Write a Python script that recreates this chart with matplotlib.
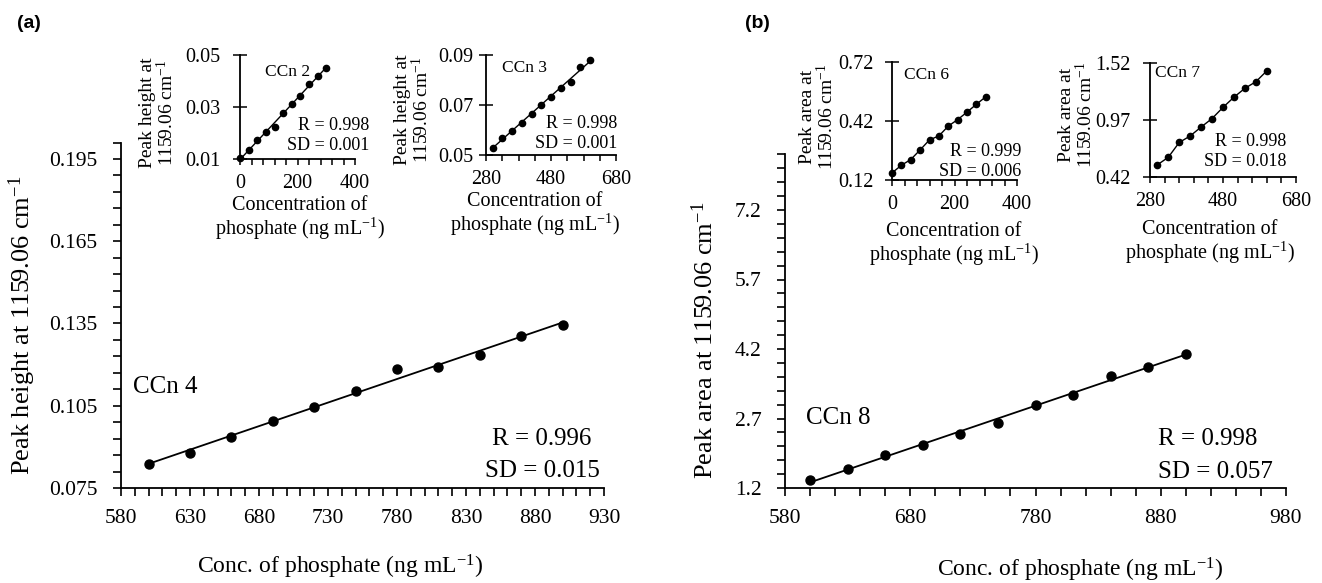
import numpy as np
import matplotlib
matplotlib.use("Agg")
import matplotlib.pyplot as plt
from matplotlib.ticker import FixedLocator, FixedFormatter

# ---------------- data ----------------
ccn2_x = [0, 30, 60, 90, 120, 150, 180, 210, 240, 270, 300]
ccn2_y = [0.0104, 0.0133, 0.0174, 0.0202, 0.0222, 0.0278, 0.0311, 0.0341, 0.0390, 0.0421, 0.0450]
ccn3_x = [300, 330, 360, 390, 420, 450, 480, 510, 540, 570, 600]
ccn3_y = [0.0530, 0.0567, 0.0596, 0.0629, 0.0666, 0.0699, 0.0732, 0.0769, 0.0792, 0.0851, 0.0880]
ccn4_x = [600, 630, 660, 690, 720, 750, 780, 810, 840, 870, 900]
ccn4_y = [0.0838, 0.0877, 0.0935, 0.0996, 0.1046, 0.1104, 0.1183, 0.1193, 0.1235, 0.1304, 0.1344]
ccn6_x = [0, 30, 60, 90, 120, 150, 180, 210, 240, 270, 300]
ccn6_y = [0.156, 0.195, 0.224, 0.273, 0.324, 0.344, 0.394, 0.427, 0.465, 0.505, 0.543]
ccn7_x = [300, 330, 360, 390, 420, 450, 480, 510, 540, 570, 600]
ccn7_y = [0.537, 0.610, 0.753, 0.816, 0.902, 0.984, 1.092, 1.190, 1.276, 1.339, 1.444]
ccn8_x = [600, 630, 660, 690, 720, 750, 780, 810, 840, 870, 900]
ccn8_y = [1.38, 1.60, 1.92, 2.12, 2.36, 2.61, 2.99, 3.20, 3.61, 3.82, 4.10]

# tick labels
a_xticks = ["580", "630", "680", "730", "780", "830", "880", "930"]
a_yticks = ["0.075", "0.105", "0.135", "0.165", "0.195"]
b_xticks = ["580", "680", "780", "880", "980"]
b_yticks = ["1.2", "2.7", "4.2", "5.7", "7.2"]
i2_x = ["0", "200", "400"];   i2_y = ["0.01", "0.03", "0.05"]
i3_x = ["280", "480", "680"]; i3_y = ["0.05", "0.07", "0.09"]
i6_x = ["0", "200", "400"];   i6_y = ["0.12", "0.42", "0.72"]
i7_x = ["280", "480", "680"]; i7_y = ["0.42", "0.97", "1.52"]

# stats text
stats = {"CCn 2": ("R = 0.998", "SD = 0.001"), "CCn 3": ("R = 0.998", "SD = 0.001"),
         "CCn 4": ("R = 0.996", "SD = 0.015"), "CCn 6": ("R = 0.999", "SD = 0.006"),
         "CCn 7": ("R = 0.998", "SD = 0.018"), "CCn 8": ("R = 0.998", "SD = 0.057")}

# ---------------- style ----------------
plt.rcParams['font.family'] = ['Liberation Serif', 'DejaVu Serif']
plt.rcParams['mathtext.fontset'] = 'custom'
plt.rcParams['mathtext.rm'] = 'Liberation Serif'
plt.rcParams['mathtext.it'] = 'Liberation Serif:italic'
plt.rcParams['axes.linewidth'] = 1.3

W, H = 1322, 583
fig = plt.figure(figsize=(W / 100, H / 100), dpi=100)
fig.patch.set_facecolor('white')

def px_axes(x0, x1, ytop, ybot):
    return fig.add_axes([x0 / W, 1 - ybot / H, (x1 - x0) / W, (ybot - ytop) / H])

def ftext(x, y, s, **kw):
    return fig.text(x / W, 1 - y / H, s, **kw)

def style(ax):
    for sp in ("top", "right"):
        ax.spines[sp].set_visible(False)
    ax.set_facecolor('none')

CM = r"cm$^{\mathrm{-1}}$"
ML = r"mL$^{\mathrm{-1}}$)"

# ---------------- main panel (a) ----------------
axA = px_axes(121, 604, 142.5, 488)
style(axA)
axA.set_xlim(580, 930)
axA.set_ylim(0.075, 0.201)
axA.xaxis.set_major_locator(FixedLocator(np.arange(580, 931, 50)))
axA.xaxis.set_major_formatter(FixedFormatter(a_xticks))
axA.xaxis.set_minor_locator(FixedLocator(np.arange(580, 931, 10)))
axA.yaxis.set_major_locator(FixedLocator(np.linspace(0.075, 0.195, 5)))
axA.yaxis.set_major_formatter(FixedFormatter(a_yticks))
axA.yaxis.set_minor_locator(FixedLocator(np.linspace(0.075, 0.201, 22)))
axA.tick_params(which='both', direction='out', length=6, width=1.2)
axA.tick_params(axis='x', labelsize=15.5, pad=9)
axA.tick_params(axis='y', labelsize=15.5, pad=11)
axA.plot(ccn4_x, ccn4_y, 'o', color='black', ms=6.5, clip_on=False, zorder=3)
c = np.polyfit(ccn4_x, ccn4_y, 1)
xx = np.array([ccn4_x[0], ccn4_x[-1]])
axA.plot(xx, np.polyval(c, xx), color='black', lw=1.3)

ftext(133, 387, "CCn 4", fontsize=18, ha='left', va='center')
ftext(542, 439, stats["CCn 4"][0], fontsize=18, ha='center', va='center')
ftext(542, 471, stats["CCn 4"][1], fontsize=18, ha='center', va='center')
ftext(340, 567, "Conc. of phosphate (ng " + ML, fontsize=17, ha='center', va='center')
ftext(22, 325, "Peak height at 1159.06 " + CM, fontsize=19, ha='center', va='center', rotation=90)

# ---------------- main panel (b) ----------------
axB = px_axes(785, 1286, 154.4, 488)
style(axB)
axB.set_xlim(580, 980)
axB.set_ylim(1.2, 8.4)
axB.xaxis.set_major_locator(FixedLocator(np.arange(580, 981, 100)))
axB.xaxis.set_major_formatter(FixedFormatter(b_xticks))
axB.xaxis.set_minor_locator(FixedLocator(np.arange(580, 981, 20)))
axB.yaxis.set_major_locator(FixedLocator(np.linspace(1.2, 7.2, 5)))
axB.yaxis.set_major_formatter(FixedFormatter(b_yticks))
axB.yaxis.set_minor_locator(FixedLocator(np.linspace(1.2, 8.4, 25)))
axB.tick_params(which='both', direction='out', length=6, width=1.2)
axB.tick_params(axis='x', labelsize=15.5, pad=9)
axB.tick_params(axis='y', labelsize=15.5, pad=11)
axB.plot(ccn8_x, ccn8_y, 'o', color='black', ms=6.5, clip_on=False, zorder=3)
c = np.polyfit(ccn8_x, ccn8_y, 1)
xx = np.array([ccn8_x[0], ccn8_x[-1]])
axB.plot(xx, np.polyval(c, xx), color='black', lw=1.3)

ftext(806, 418, "CCn 8", fontsize=18, ha='left', va='center')
ftext(1158, 439, stats["CCn 8"][0], fontsize=18, ha='left', va='center')
ftext(1158, 472, stats["CCn 8"][1], fontsize=18, ha='left', va='center')
ftext(1080, 570, "Conc. of phosphate (ng " + ML, fontsize=17, ha='center', va='center')
ftext(705, 340, "Peak area at 1159.06 " + CM, fontsize=19, ha='center', va='center', rotation=90)

# ---------------- insets ----------------
def inset(box, xlim, ylim, xt, xlabels, xminor, yt, ylabels, xs, ys, fit, ypad, name,
          name_pos, stat_right, stat_y, xlab_pos, ylab_pos, ylab_first):
    ax = px_axes(*box)
    style(ax)
    ax.set_xlim(*xlim)
    ax.set_ylim(*ylim)
    ax.xaxis.set_major_locator(FixedLocator(xt))
    ax.xaxis.set_major_formatter(FixedFormatter(xlabels))
    ax.xaxis.set_minor_locator(FixedLocator(xminor))
    ax.yaxis.set_major_locator(FixedLocator(yt))
    ax.yaxis.set_major_formatter(FixedFormatter(ylabels))
    ax.tick_params(axis='x', which='both', direction='out', length=4, width=1.1,
                   labelsize=14.5, pad=7)
    ax.tick_params(axis='y', direction='inout', length=10, width=1.1,
                   labelsize=14.5, pad=ypad)
    ax.plot(xs, ys, 'o', color='black', ms=4.5, clip_on=False, zorder=3)
    if fit:
        cc = np.polyfit(xs, ys, 1)
        xx = np.array([xs[0], xs[-1]])
        ax.plot(xx, np.polyval(cc, xx), color='black', lw=1.0)
    else:
        ax.plot(xs, ys, color='black', lw=1.0)
    ftext(name_pos[0], name_pos[1], name, fontsize=12.5, ha='left', va='center')
    ftext(stat_right, stat_y[0], stats[name][0], fontsize=13, ha='right', va='center')
    ftext(stat_right, stat_y[1], stats[name][1], fontsize=13, ha='right', va='center')
    ftext(xlab_pos[0], xlab_pos[1], "Concentration of\nphosphate (ng " + ML, fontsize=14.5,
          ha='center', va='center', linespacing=1.0)
    ftext(ylab_pos[0], ylab_pos[1], ylab_first + "\n1159.06 " + CM, fontsize=14,
          ha='center', va='center', rotation=90, linespacing=1.0)
    return ax

inset((240, 355, 55, 159), (0, 400), (0.01, 0.05), [0, 200, 400], i2_x, np.arange(0, 401, 40),
      [0.01, 0.03, 0.05], i2_y, ccn2_x, ccn2_y, True, 9, "CCn 2", (265, 72), 369, (126, 146),
      (300, 219), (158, 113), "Peak height at")
inset((486, 616, 55, 155), (280, 680), (0.05, 0.09), [280, 480, 680], i3_x, np.arange(280, 681, 50),
      [0.05, 0.07, 0.09], i3_y, ccn3_x, ccn3_y, True, 4, "CCn 3", (502, 68), 617, (123, 144),
      (535, 215), (413, 110), "Peak height at")
inset((892, 1017, 62, 180), (0, 400), (0.12, 0.72), [0, 200, 400], i6_x, np.arange(0, 401, 40),
      [0.12, 0.42, 0.72], i6_y, ccn6_x, ccn6_y, False, 8, "CCn 6", (904, 75), 1021, (152, 172),
      (954, 245), (818, 117), "Peak area at")
inset((1150, 1296, 63, 177), (280, 680), (0.42, 1.52), [280, 480, 680], i7_x, np.arange(280, 681, 40),
      [0.42, 0.97, 1.52], i7_y, ccn7_x, ccn7_y, False, 9, "CCn 7", (1155, 73), 1286, (142, 162),
      (1210, 243), (1077, 115), "Peak area at")

# panel labels
ftext(17, 23, "(a)", fontsize=14, fontweight='bold', family='Liberation Sans', ha='left', va='center')
ftext(745, 23, "(b)", fontsize=14, fontweight='bold', family='Liberation Sans', ha='left', va='center')

fig.savefig("out.png", dpi=100, facecolor='white')
